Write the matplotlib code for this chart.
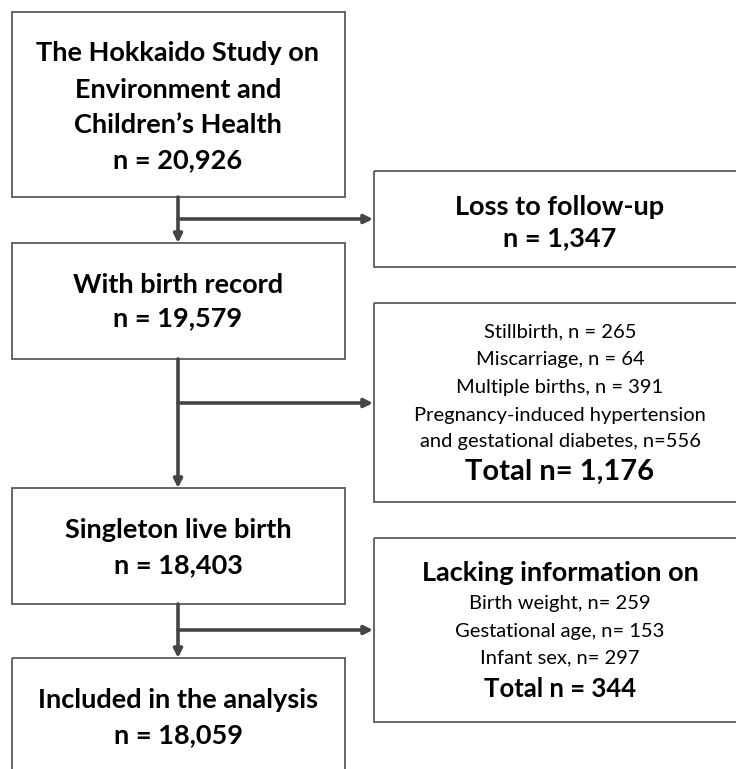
import matplotlib
matplotlib.use("Agg")
import matplotlib.pyplot as plt
from matplotlib.patches import Rectangle

plt.rcParams['font.family'] = ['Lato', 'DejaVu Sans']

# main flow boxes (left column)
main_titles = ["The Hokkaido Study on\nEnvironment and\nChildren\u2019s Health",
               "With birth record",
               "Singleton live birth",
               "Included in the analysis"]
main_counts = ["20,926", "19,579", "18,403", "18,059"]

# exclusion boxes (right column)
excl_heads = ["Loss to follow-up", None, "Lacking information on"]
excl_items = [[],
              ["Stillbirth, n = 265", "Miscarriage, n = 64", "Multiple births, n = 391",
               "Pregnancy-induced hypertension", "and gestational diabetes, n=556"],
              ["Birth weight, n= 259", "Gestational age, n= 153", "Infant sex, n= 297"]]
excl_totals = ["n = 1,347", "Total n= 1,176", "Total n = 344"]

# layout in pixels (x0, y_top, x1, y_bottom)
main_boxes = [(12, 12, 345, 197), (12, 243, 345, 359), (12, 488, 345, 604), (12, 658, 345, 800)]
excl_boxes = [(374, 171, 760, 267), (374, 303, 760, 502), (374, 538, 760, 722)]
branch_y = [219, 403, 630]
stem_x = 178

W, H = 736, 769
fig = plt.figure(figsize=(W / 100, H / 100), dpi=100)
ax = fig.add_axes([0, 0, 1, 1])
ax.set_xlim(0, W)
ax.set_ylim(H, 0)
ax.axis('off')

edge = '#5a5a5a'
arrow_c = '#454545'
big = 19.5
small = 14.5

for (x0, y0, x1, y1) in main_boxes + excl_boxes:
    ax.add_patch(Rectangle((x0, y0), x1 - x0, y1 - y0, fill=False, ec=edge, lw=1.3))

# main box text
main_lines = [[53, 90, 125, 160], [285, 318], [530, 565], [700, 735]]
for title, cnt, ys in zip(main_titles, main_counts, main_lines):
    lines = title.split("\n") + ["n = " + cnt]
    for s, y in zip(lines, ys):
        ax.text(178, y, s, ha='center', va='center', fontsize=big, fontweight='bold')

# exclusion text
cx = 560
ax.text(cx, 207, excl_heads[0], ha='center', va='center', fontsize=big, fontweight='bold')
ax.text(cx, 238, excl_totals[0], ha='center', va='center', fontsize=big, fontweight='bold')

for s, y in zip(excl_items[1], [332, 360, 387, 415, 442]):
    ax.text(cx, y, s, ha='center', va='center', fontsize=small)
ax.text(cx, 472, excl_totals[1], ha='center', va='center', fontsize=21, fontweight='bold')

ax.text(cx, 573, excl_heads[2], ha='center', va='center', fontsize=big, fontweight='bold')
for s, y in zip(excl_items[2], [603, 631, 658]):
    ax.text(cx, y, s, ha='center', va='center', fontsize=small)
ax.text(cx, 689, excl_totals[2], ha='center', va='center', fontsize=18.5, fontweight='bold')

# arrows
akw = dict(arrowstyle='-|>,head_length=0.5,head_width=0.25', color=arrow_c, lw=2.6,
           shrinkA=0, shrinkB=0)
for i in range(3):
    ax.annotate('', xy=(stem_x, main_boxes[i + 1][1]), xytext=(stem_x, main_boxes[i][3]),
                arrowprops=akw)
    ax.annotate('', xy=(excl_boxes[i][0] - 1, branch_y[i]), xytext=(stem_x, branch_y[i]),
                arrowprops=akw)

fig.savefig('out.png', dpi=100)
